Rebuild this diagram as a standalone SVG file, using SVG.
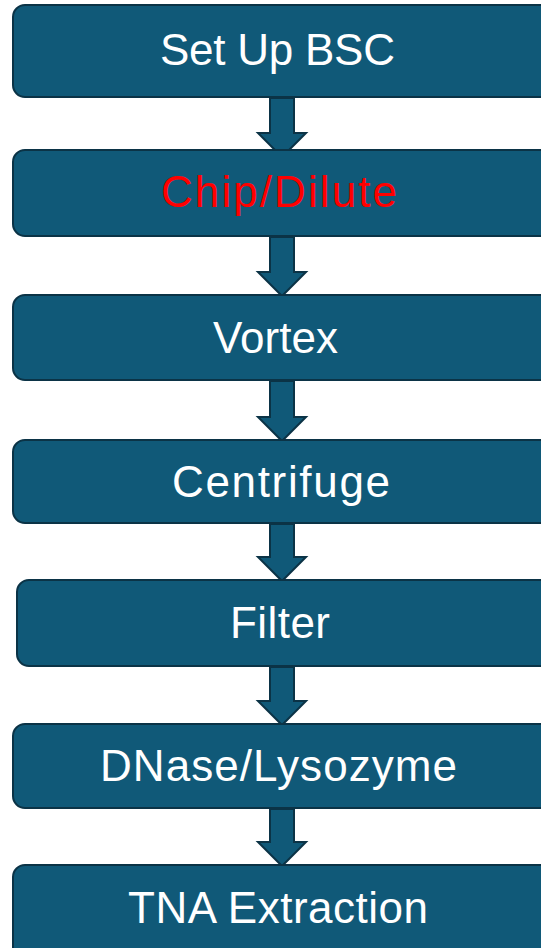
<svg xmlns="http://www.w3.org/2000/svg" width="541" height="948" viewBox="0 0 541 948">
  <style>
    .box { fill: #105978; stroke: #0B3346; stroke-width: 2; }
    .arrow { fill: #105978; stroke: #0B3346; stroke-width: 2; stroke-linejoin: miter; }
    .label { font-family: "Liberation Sans", Arial, sans-serif; font-size: 44px; fill: #FFFFFF; }
    .red { fill: #FF0000; }
  </style>
  <rect x="0" y="0" width="541" height="948" fill="#FFFFFF"/>
  <g id="connectors">
    <polygon class="arrow" points="270,98 294,98 294,133 306,133 282,157 258,133 270,133"/>
    <polygon class="arrow" points="270,237 294,237 294,272 306,272 282,296 258,272 270,272"/>
    <polygon class="arrow" points="270,381 294,381 294,417 306,417 282,441 258,417 270,417"/>
    <polygon class="arrow" points="270,524 294,524 294,557 306,557 282,581 258,557 270,557"/>
    <polygon class="arrow" points="270,667 294,667 294,701 306,701 282,725 258,701 270,701"/>
    <polygon class="arrow" points="270,809 294,809 294,842 306,842 282,866 258,842 270,842"/>
  </g>
  <g id="setup-bsc">
    <rect class="box" x="13" y="5" width="540" height="92" rx="12"/>
    <text class="label" x="160" y="65" textLength="235" lengthAdjust="spacing">Set Up BSC</text>
  </g>
  <g id="chip-dilute">
    <rect class="box" x="13" y="150" width="540" height="86" rx="12"/>
    <text class="label red" x="161" y="207" textLength="236" lengthAdjust="spacing">Chip/Dilute</text>
  </g>
  <g id="vortex">
    <rect class="box" x="13" y="295" width="540" height="85" rx="12"/>
    <text class="label" x="213" y="353" textLength="125" lengthAdjust="spacing">Vortex</text>
  </g>
  <g id="centrifuge">
    <rect class="box" x="13" y="440" width="540" height="83" rx="12"/>
    <text class="label" x="172" y="497" textLength="218" lengthAdjust="spacing">Centrifuge</text>
  </g>
  <g id="filter">
    <rect class="box" x="17" y="580" width="540" height="86" rx="12"/>
    <text class="label" x="230" y="638" textLength="100" lengthAdjust="spacing">Filter</text>
  </g>
  <g id="dnase-lysozyme">
    <rect class="box" x="13" y="724" width="540" height="84" rx="12"/>
    <text class="label" x="100" y="781" textLength="357" lengthAdjust="spacing">DNase/Lysozyme</text>
  </g>
  <g id="tna-extraction">
    <rect class="box" x="13" y="865" width="540" height="100" rx="12"/>
    <text class="label" x="128" y="923" textLength="300" lengthAdjust="spacing">TNA Extraction</text>
  </g>
</svg>
